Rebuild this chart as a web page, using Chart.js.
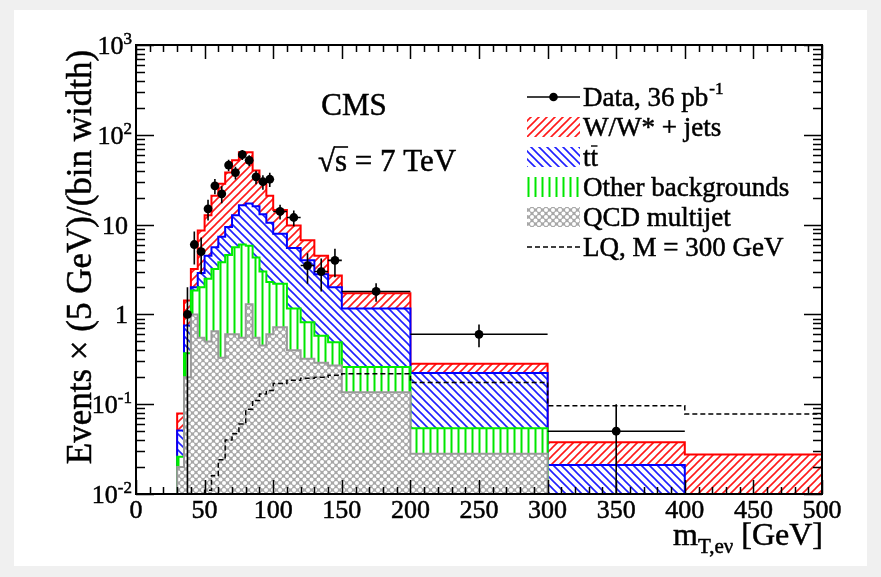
<!DOCTYPE html>
<html>
<head>
<meta charset="utf-8">
<script src="https://cdn.jsdelivr.net/npm/chart.js@4.4.1/dist/chart.umd.min.js"></script>
<style>
  html, body { margin: 0; padding: 0; background: #f0f0f0; }
  #wrap { position: relative; width: 881px; height: 577px; overflow: hidden; }
  #paper { position: absolute; left: 14px; top: 10px; width: 853px; height: 556px; background: #fff; }
  #c { position: absolute; left: 0; top: 0; }
</style>
</head>
<body>
<div id="wrap"><div id="paper"></div><canvas id="c" width="881" height="577"></canvas></div>
<script>
// ─── Binning and yields ─────────────────────────────────────────────
// bin edges in GeV: 5 GeV up to 100, 10 GeV up to 150, then wide bins
const binEdges = [30, 35, 40, 45, 50, 55, 60, 65, 70, 75, 80, 85, 90, 95, 100,
                  110, 120, 130, 140, 150, 200, 300, 400, 500];

// per-process yields, events x (5 GeV)/(bin width), bottom of the stack first
const qcd   = [0.020, 0.20, 1.0, 0.55, 0.5, 0.65, 0.33, 0.6, 0.6, 0.55, 1.3, 0.55, 0.45, 0.6,
               0.72, 0.4, 0.32, 0.29, 0.27, 0.136, 0.028, 0, 0];
const other = [0.006, 0.17, 0.85, 1.45, 2.0, 2.55, 3.47, 4.0, 5.0, 5.45, 4.5, 3.75, 2.55, 1.7,
               1.48, 0.76, 0.5, 0.29, 0.22, 0.124, 0.026, 0, 0];
const ttbar = [0.025, 0.38, 0.15, 0.9, 2.0, 2.4, 3.5, 4.8, 7.1, 10.4, 11.4, 11.7, 10.0, 8.2,
               5.7, 4.34, 3.18, 2.22, 1.51, 0.9, 0.168, 0.021, 0];
const wjets = [0.028, 0.68, 1.2, 5.7, 8.2, 15.4, 21.2, 28.6, 39.3, 47.6, 46.8, 24.0, 18.0, 10.5,
               6.6, 4.3, 2.7, 1.7, 0.72, 0.56, 0.06, 0.0167, 0.0275];
// leptoquark signal, M = 300 GeV (not stacked)
const lqSignal = [0, 0, 0, 0, 0.011, 0.016, 0.024, 0.04, 0.047, 0.06, 0.088, 0.11, 0.13, 0.142,
                  0.17, 0.185, 0.195, 0.2, 0.21, 0.218, 0.174, 0.096, 0.078];

// observed data
const dataX     = [37.5, 42.5, 47.5, 52.5, 57.5, 62.5, 67.5, 72.5, 77.5, 82.5, 87.5, 92.5, 97.5,
                   105, 115, 125, 135, 145, 175, 250, 350];
const dataY     = [1, 6, 5, 15, 27, 22, 46, 38, 60, 52, 34, 30, 32,
                   14, 12, 3.5, 3, 4, 1.8, 0.6, 0.05];
const dataErr   = [1, 2.4, 2.2, 3.9, 5.2, 4.7, 6.8, 6.2, 7.7, 7.2, 5.8, 5.5, 5.7,
                   2.6, 2.4, 1.3, 1.2, 1.4, 0.42, 0.17, 0.05];
const dataHalfW = [2.5, 2.5, 2.5, 2.5, 2.5, 2.5, 2.5, 2.5, 2.5, 2.5, 2.5, 2.5, 2.5,
                   5, 5, 5, 5, 5, 25, 50, 50];

// y axis decades and their labels: [base, exponent]
const yDecades = [-2, -1, 0, 1, 2, 3];
const yTickText = { "-2": ["10", "-2"], "-1": ["10", "-1"], "0": ["1", ""], "1": ["10", ""], "2": ["10", "2"], "3": ["10", "3"] };
const xTicks = [0, 50, 100, 150, 200, 250, 300, 350, 400, 450, 500];

const Y_MIN = 0.01, Y_MAX = 1000;
const SERIF = "'Liberation Serif', 'Times New Roman', serif";

// ─── Fill patterns ──────────────────────────────────────────────────
const canvas = document.getElementById("c");
const ctx = canvas.getContext("2d");

function hatch(color, kind, size, lw) {
    const t = document.createElement("canvas");
    t.width = size; t.height = size;
    const g = t.getContext("2d");
    g.fillStyle = "#fff";
    g.fillRect(0, 0, size, size);
    g.strokeStyle = color;
    g.lineWidth = lw;
    g.beginPath();
    if (kind === "/") {
        g.moveTo(-1, size + 1); g.lineTo(size + 1, -1);
        g.moveTo(-1, 1); g.lineTo(1, -1);
        g.moveTo(size - 1, size + 1); g.lineTo(size + 1, size - 1);
    } else if (kind === "\\") {
        g.moveTo(-1, -1); g.lineTo(size + 1, size + 1);
        g.moveTo(size - 1, -1); g.lineTo(size + 1, 1);
        g.moveTo(-1, size - 1); g.lineTo(1, size + 1);
    } else {
        g.moveTo(size / 2, 0); g.lineTo(size / 2, size);
    }
    g.stroke();
    return ctx.createPattern(t, "repeat");
}

function dots(size) {
    const t = document.createElement("canvas");
    t.width = size; t.height = size;
    const g = t.getContext("2d");
    g.fillStyle = "#a8a8a8";
    g.fillRect(0, 0, size, size);
    g.fillStyle = "#fff";
    [[0, 0], [size, 0], [0, size], [size, size], [size / 2, size / 2]].forEach(([x, y]) => {
        g.beginPath();
        g.arc(x, y, 2.0, 0, Math.PI * 2);
        g.fill();
    });
    return ctx.createPattern(t, "repeat");
}

const wPattern = hatch("#ff1a1a", "/", 8, 1.6);
const tPattern = hatch("#2020ff", "\\", 8, 1.6);
const oPattern = hatch("#00e600", "|", 7, 2);
const qPattern = dots(7);

// ─── Histogram helpers ──────────────────────────────────────────────
const cumulative = (layers) => binEdges.slice(0, -1).map((_, i) =>
    layers.reduce((s, a) => s + a[i], 0));

// step outline: up the left edge, across each bin, down the right edge
function histPoints(vals) {
    const first = vals.findIndex(v => v > 0);
    const pts = [{ x: binEdges[first], y: Y_MIN }];
    for (let i = first; i < vals.length; i++) {
        pts.push({ x: binEdges[i], y: vals[i] > Y_MIN ? vals[i] : Y_MIN });
    }
    const last = vals[vals.length - 1];
    pts.push({ x: binEdges[binEdges.length - 1], y: last > Y_MIN ? last : Y_MIN });
    pts.push({ x: binEdges[binEdges.length - 1], y: Y_MIN });
    return pts;
}

function stackSet(label, vals, color, pattern, width) {
    return {
        label,
        data: histPoints(vals),
        stepped: "before",
        borderColor: color,
        borderWidth: width,
        backgroundColor: pattern,
        fill: "start",
        pointRadius: 0,
    };
}

const topQ = cumulative([qcd]);
const topO = cumulative([qcd, other]);
const topT = cumulative([qcd, other, ttbar]);
const topW = cumulative([qcd, other, ttbar, wjets]);

// ─── Drawing plugins ────────────────────────────────────────────────
const errorBars = {
    id: "errorBars",
    afterDatasetsDraw(chart) {
        const { ctx, chartArea: a, scales: { x, y } } = chart;
        ctx.save();
        ctx.beginPath();
        ctx.rect(a.left, a.top, a.right - a.left, a.bottom - a.top);
        ctx.clip();
        ctx.strokeStyle = "#000";
        ctx.lineWidth = 1.6;
        dataX.forEach((xv, i) => {
            const px = x.getPixelForValue(xv);
            const py = y.getPixelForValue(dataY[i]);
            const lo = dataY[i] - dataErr[i];
            const pLo = lo > Y_MIN ? y.getPixelForValue(lo) : a.bottom;
            const pHi = y.getPixelForValue(dataY[i] + dataErr[i]);
            ctx.beginPath();
            ctx.moveTo(px, pLo); ctx.lineTo(px, pHi);
            ctx.moveTo(x.getPixelForValue(xv - dataHalfW[i]), py);
            ctx.lineTo(x.getPixelForValue(xv + dataHalfW[i]), py);
            ctx.stroke();
        });
        ctx.restore();
    },
};

// filled text with a thin outline, so the serif strokes read a bit heavier
function text(ctx, s, x, y) {
    ctx.fillText(s, x, y);
    ctx.strokeText(s, x, y);
}

const frameAndTicks = {
    id: "frameAndTicks",
    afterDraw(chart) {
        const { ctx, chartArea: a, scales: { x, y } } = chart;
        ctx.save();
        ctx.strokeStyle = "#000";
        ctx.lineWidth = 1.5;
        ctx.beginPath();
        // y ticks on both sides
        for (const d of yDecades) {
            for (let m = 1; m <= 9; m++) {
                const v = m * Math.pow(10, d);
                if (v > Y_MAX + 1e-9) break;
                const py = Math.round(y.getPixelForValue(v)) + 0.5;
                const len = m === 1 ? 18 : 9;
                ctx.moveTo(a.left, py); ctx.lineTo(a.left + len, py);
                ctx.moveTo(a.right, py); ctx.lineTo(a.right - len, py);
            }
        }
        // x ticks on bottom and top
        for (let v = 0; v <= 500; v += 10) {
            const px = Math.round(x.getPixelForValue(v)) + 0.5;
            const len = v % 50 === 0 ? 14 : 7;
            ctx.moveTo(px, a.bottom); ctx.lineTo(px, a.bottom - len);
            ctx.moveTo(px, a.top); ctx.lineTo(px, a.top + len);
        }
        ctx.stroke();
        ctx.lineWidth = 2;
        ctx.strokeRect(a.left, a.top, a.right - a.left, a.bottom - a.top);

        // y decade labels with raised exponents
        ctx.fillStyle = "#000";
        ctx.lineWidth = 0.5;
        ctx.textAlign = "right";
        ctx.textBaseline = "alphabetic";
        for (const d of yDecades) {
            const [base, exp] = yTickText[String(d)];
            const py = y.getPixelForValue(Math.pow(10, d));
            const right = a.left - 4;
            ctx.font = `17px ${SERIF}`;
            const wExp = exp ? ctx.measureText(exp).width : 0;
            if (exp) text(ctx, exp, right, py - 1);
            ctx.font = `26px ${SERIF}`;
            text(ctx, base, right - wExp - (exp ? 0 : 4), py + 9);
        }
        ctx.restore();
    },
};

const labels = {
    id: "labels",
    afterDraw(chart) {
        const { ctx } = chart;
        ctx.save();
        ctx.fillStyle = "#000";
        ctx.strokeStyle = "#000";
        ctx.lineWidth = 0.5;
        ctx.textBaseline = "alphabetic";

        // y title
        ctx.save();
        ctx.translate(91, 257);
        ctx.rotate(-Math.PI / 2);
        ctx.textAlign = "center";
        ctx.font = `35px ${SERIF}`;
        text(ctx, "Events \u00D7 (5 GeV)/(bin width)", 0, 0);
        ctx.restore();

        // x title: m_{T,eν} [GeV]
        ctx.textAlign = "left";
        ctx.font = `32px ${SERIF}`;
        const tail = " [GeV]";
        const wTail = ctx.measureText(tail).width;
        ctx.font = `21px ${SERIF}`;
        const sub = "T,e\u03BD";
        const wSub = ctx.measureText(sub).width;
        ctx.font = `32px ${SERIF}`;
        const wM = ctx.measureText("m").width;
        const xs = 823 - wTail - wSub - wM;
        text(ctx, "m", xs, 545);
        ctx.font = `21px ${SERIF}`;
        text(ctx, sub, xs + wM, 553);
        ctx.font = `32px ${SERIF}`;
        text(ctx, tail, xs + wM + wSub, 545);

        // CMS and energy
        ctx.textAlign = "center";
        ctx.font = `31px ${SERIF}`;
        text(ctx, "CMS", 354, 115);
        ctx.textAlign = "left";
        const rx = 318, ry = 171;
        text(ctx, "\u221A", rx, ry);
        const wR = ctx.measureText("\u221A").width;
        text(ctx, "s = 7 TeV", rx + wR, ry);
        const wS = ctx.measureText("s").width;
        ctx.lineWidth = 1.6;
        ctx.beginPath();
        ctx.moveTo(rx + wR - 1, ry - 24);
        ctx.lineTo(rx + wR + wS + 1, ry - 24);
        ctx.stroke();

        // legend
        const lx = 527, lw = 53, tx = 583;
        const rows = [97, 127, 157, 187, 217, 247];
        ctx.font = `27px ${SERIF}`;
        ctx.lineWidth = 1.5;
        // data
        ctx.beginPath();
        ctx.moveTo(lx, rows[0]); ctx.lineTo(lx + lw, rows[0]);
        ctx.stroke();
        ctx.beginPath();
        ctx.arc(lx + lw / 2, rows[0], 4.3, 0, Math.PI * 2);
        ctx.fill();
        ctx.lineWidth = 0.5;
        text(ctx, "Data, 36 pb", tx, rows[0] + 9);
        const wData = ctx.measureText("Data, 36 pb").width;
        ctx.font = `17px ${SERIF}`;
        text(ctx, "-1", tx + wData + 1, rows[0] - 3);
        ctx.font = `27px ${SERIF}`;
        // stacked processes
        const boxes = [[wPattern, "W/W* + jets"], [tPattern, null], [oPattern, "Other backgrounds"], [qPattern, "QCD multijet"]];
        boxes.forEach(([pat, txt], k) => {
            const cy = rows[k + 1];
            ctx.fillStyle = pat;
            ctx.fillRect(lx, cy - 10, lw, 20);
            ctx.fillStyle = "#000";
            if (txt) text(ctx, txt, tx, cy + 9);
        });
        // t tbar
        const cyT = rows[2];
        text(ctx, "tt", tx, cyT + 9);
        const wT = ctx.measureText("t").width;
        ctx.lineWidth = 1.4;
        ctx.beginPath();
        ctx.moveTo(tx + wT + 0.5, cyT - 11);
        ctx.lineTo(tx + 2 * wT - 0.5, cyT - 11);
        ctx.stroke();
        // signal
        ctx.lineWidth = 1.5;
        ctx.setLineDash([5, 3]);
        ctx.beginPath();
        ctx.moveTo(lx, rows[5]); ctx.lineTo(lx + lw, rows[5]);
        ctx.stroke();
        ctx.setLineDash([]);
        ctx.lineWidth = 0.5;
        text(ctx, "LQ, M = 300 GeV", tx, rows[5] + 9);
        ctx.restore();
    },
};

// ─── Chart ──────────────────────────────────────────────────────────
new Chart(ctx, {
    type: "line",
    data: {
        datasets: [
            {
                label: "Data",
                data: dataX.map((x, i) => ({ x, y: dataY[i] })),
                showLine: false,
                pointRadius: 4.4,
                pointBackgroundColor: "#000",
                pointBorderWidth: 0,
            },
            {
                label: "LQ, M = 300 GeV",
                data: histPoints(lqSignal),
                stepped: "before",
                borderColor: "#000",
                borderWidth: 1.5,
                borderDash: [5, 3],
                fill: false,
                pointRadius: 0,
            },
            stackSet("QCD multijet", topQ, "#9a9a9a", qPattern, 2),
            stackSet("Other backgrounds", topO, "#00ee00", oPattern, 2),
            stackSet("ttbar", topT, "#0000ff", tPattern, 2),
            stackSet("W/W* + jets", topW, "#ff0000", wPattern, 2),
        ],
    },
    options: {
        responsive: false,
        animation: false,
        devicePixelRatio: 1,
        layout: { padding: { top: 45, right: 59, left: 0, bottom: 0 } },
        plugins: { legend: { display: false }, tooltip: { enabled: false } },
        scales: {
            x: {
                type: "linear",
                min: 0,
                max: 500,
                grid: { display: false, drawTicks: false },
                border: { display: false },
                afterBuildTicks: (s) => { s.ticks = xTicks.map(v => ({ value: v })); },
                ticks: {
                    autoSkip: false,
                    maxRotation: 0,
                    padding: 2,
                    color: "#000",
                    textStrokeColor: "#000",
                    textStrokeWidth: 0.5,
                    font: { family: SERIF, size: 26 },
                },
                afterFit: (s) => { s.height = 83; },
            },
            y: {
                type: "logarithmic",
                min: Y_MIN,
                max: Y_MAX,
                grid: { display: false, drawTicks: false },
                border: { display: false },
                ticks: { display: false },
                afterFit: (s) => { s.width = 136; },
            },
        },
    },
    plugins: [errorBars, frameAndTicks, labels],
});
</script>
</body>
</html>
